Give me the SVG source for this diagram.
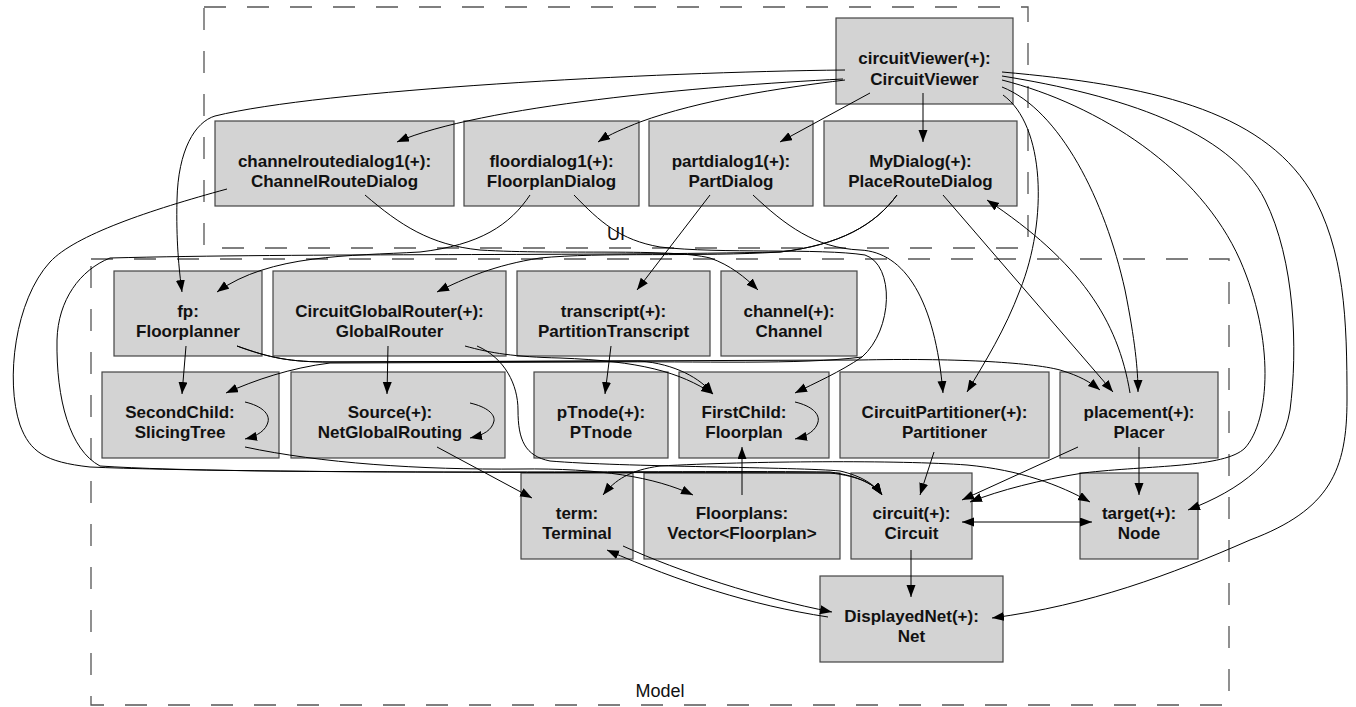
<svg xmlns="http://www.w3.org/2000/svg" width="1356" height="707" viewBox="0 0 1356 707">
<style>
.cl{fill:none;stroke:#555;stroke-width:1.3;stroke-dasharray:22,21}
.cll{font-family:"Liberation Sans",Arial,sans-serif;font-size:18px;fill:#111;text-anchor:middle}
.nd rect{fill:#d3d3d3;stroke:#444;stroke-width:1.2}
.nd text{font-family:"Liberation Sans",Arial,sans-serif;font-size:17px;font-weight:bold;fill:#111;text-anchor:middle}
.e path{fill:none;stroke:#000;stroke-width:1}
</style>
<defs>
<marker id="a" markerUnits="userSpaceOnUse" markerWidth="13" markerHeight="10" refX="12" refY="4.5" orient="auto-start-reverse">
<path d="M0,0 L12,4.5 L0,9 z" fill="#000"/>
</marker>
</defs>
<rect width="1356" height="707" fill="#fff"/>
<g id="cluster-ui"><rect class="cl" x="204" y="7" width="824" height="241"/><text class="cll" x="616" y="240">UI</text></g>
<g id="cluster-model"><rect class="cl" x="91" y="259" width="1138" height="446"/><text class="cll" x="660" y="697">Model</text></g>

<g id="n-circuitViewer" class="nd"><rect x="836" y="18" width="177" height="86"/><text x="924.5" y="64">circuitViewer(+):</text><text x="924.5" y="85">CircuitViewer</text></g>
<g id="n-channelroutedialog1" class="nd"><rect x="215" y="121" width="239" height="85"/><text x="334.5" y="167">channelroutedialog1(+):</text><text x="334.5" y="187">ChannelRouteDialog</text></g>
<g id="n-floordialog1" class="nd"><rect x="464" y="121" width="175" height="85"/><text x="551.5" y="167">floordialog1(+):</text><text x="551.5" y="187">FloorplanDialog</text></g>
<g id="n-partdialog1" class="nd"><rect x="649" y="121" width="164" height="85"/><text x="731" y="167">partdialog1(+):</text><text x="731" y="187">PartDialog</text></g>
<g id="n-MyDialog" class="nd"><rect x="824" y="121" width="193" height="85"/><text x="920.5" y="167">MyDialog(+):</text><text x="920.5" y="187">PlaceRouteDialog</text></g>
<g id="n-fp" class="nd"><rect x="114" y="271" width="148" height="85"/><text x="188" y="317">fp:</text><text x="188" y="337">Floorplanner</text></g>
<g id="n-CircuitGlobalRouter" class="nd"><rect x="273" y="271" width="233" height="85"/><text x="389.5" y="317">CircuitGlobalRouter(+):</text><text x="389.5" y="337">GlobalRouter</text></g>
<g id="n-transcript" class="nd"><rect x="517" y="271" width="193" height="85"/><text x="613.5" y="317">transcript(+):</text><text x="613.5" y="337">PartitionTranscript</text></g>
<g id="n-channel" class="nd"><rect x="721" y="271" width="136" height="85"/><text x="789" y="317">channel(+):</text><text x="789" y="337">Channel</text></g>
<g id="n-SecondChild" class="nd"><rect x="102" y="372" width="177" height="86"/><text x="180" y="418">SecondChild:</text><text x="180" y="438">SlicingTree</text></g>
<g id="n-Source" class="nd"><rect x="291" y="372" width="214" height="86"/><text x="390" y="418">Source(+):</text><text x="390" y="438">NetGlobalRouting</text></g>
<g id="n-pTnode" class="nd"><rect x="534" y="372" width="134" height="86"/><text x="601" y="418">pTnode(+):</text><text x="601" y="438">PTnode</text></g>
<g id="n-FirstChild" class="nd"><rect x="679" y="372" width="150" height="86"/><text x="744" y="418">FirstChild:</text><text x="744" y="438">Floorplan</text></g>
<g id="n-CircuitPartitioner" class="nd"><rect x="840" y="372" width="209" height="86"/><text x="944.5" y="418">CircuitPartitioner(+):</text><text x="944.5" y="438">Partitioner</text></g>
<g id="n-placement" class="nd"><rect x="1060" y="372" width="158" height="86"/><text x="1139" y="418">placement(+):</text><text x="1139" y="438">Placer</text></g>
<g id="n-term" class="nd"><rect x="521" y="473" width="112" height="86"/><text x="577" y="519">term:</text><text x="577" y="539">Terminal</text></g>
<g id="n-Floorplans" class="nd"><rect x="644" y="473" width="196" height="86"/><text x="742" y="519">Floorplans:</text><text x="742" y="539">Vector&lt;Floorplan&gt;</text></g>
<g id="n-circuit" class="nd"><rect x="851" y="473" width="121" height="86"/><text x="911.5" y="519">circuit(+):</text><text x="911.5" y="539">Circuit</text></g>
<g id="n-target" class="nd"><rect x="1080" y="473" width="118" height="86"/><text x="1139" y="519">target(+):</text><text x="1139" y="539">Node</text></g>
<g id="n-DisplayedNet" class="nd"><rect x="820" y="576" width="183" height="86"/><text x="911.5" y="622">DisplayedNet(+):</text><text x="911.5" y="642">Net</text></g>

<g id="connectors" class="e">
<path marker-end="url(#a)" d="M843,79 C700,86 480,106 397,142"/>
<path marker-end="url(#a)" d="M845,80 C780,88 700,100 640,122 C625,128 610,134 598,142"/>
<path marker-end="url(#a)" d="M870,93 L780,142"/>
<path marker-end="url(#a)" d="M923,93 L923,142"/>
<path marker-end="url(#a)" d="M845,70 C650,72 320,90 215,116 C195,122 178,150 177,200 C176,240 179,270 182,292"/>
<path marker-end="url(#a)" d="M1130,393 C1118,320 1080,262 987,200"/>
<path marker-end="url(#a)" d="M943,195 L1113,392"/>
<path marker-end="url(#a)" d="M1002,87 C1060,110 1105,200 1125,290 C1135,340 1138,370 1138,392"/>
<path marker-end="url(#a)" d="M1003,95 C1045,125 1048,220 1020,290 C1005,330 985,362 967,392"/>
<path marker-end="url(#a)" d="M1002,80 C1100,105 1200,170 1240,260 C1275,340 1270,420 1245,448 C1225,468 1150,465 1083,473 C1040,480 1000,490 970,502"/>
<path marker-end="url(#a)" d="M1002,76 C1120,95 1230,130 1265,200 C1295,260 1298,350 1290,410 C1282,460 1240,490 1188,510"/>
<path marker-end="url(#a)" d="M1002,72 C1150,85 1260,110 1310,190 C1345,250 1347,320 1347,400 C1347,470 1330,510 1250,540 C1170,575 1090,605 992,618"/>
<path marker-end="url(#a)" d="M710,195 L637,290"/>
<path marker-end="url(#a)" d="M753,195 C785,225 815,248 860,250 C905,252 935,300 943,393"/>
<path marker-end="url(#a)" d="M897,195 C875,225 840,245 780,252 C700,257 600,252 540,258 C495,265 465,278 437,292"/>
<path marker-end="url(#a)" d="M530,195 C510,225 480,245 420,252 C350,256 270,254 217,292"/>
<path marker-end="url(#a)" d="M365,195 C400,225 430,245 480,250 C560,255 670,248 710,258 C730,265 745,277 758,290"/>
<path marker-end="url(#a)" d="M574,195 C600,222 620,240 660,247 C720,254 820,248 865,255 C895,265 893,330 862,357 C840,372 815,383 795,393"/>
<path marker-end="url(#a)" d="M862,357 C800,365 700,361 600,362 L330,363 C290,368 255,380 226,393"/>
<path marker-end="url(#a)" d="M227,189 C150,210 75,235 50,262 C15,300 5,380 20,425 C30,452 45,462 90,467 C250,474 700,472 830,473 C860,476 875,485 882,495"/>
<path marker-end="url(#a)" d="M897,195 C875,225 840,245 780,252 C600,256 300,253 110,258 C80,270 58,300 57,340 C56,400 70,450 100,466 C250,476 700,470 830,472 C860,476 875,485 882,495"/>
<path marker-end="url(#a)" d="M186,346 L182,394"/>
<path marker-end="url(#a)" d="M388,346 L387,394"/>
<path marker-end="url(#a)" d="M611,346 L605,394"/>
<path marker-end="url(#a)" d="M237,346 C270,358 290,362 330,362 L640,361 C675,364 700,378 713,394"/>
<path marker-end="url(#a)" d="M237,346 C270,358 290,362 330,362 L860,360 C950,358 1030,362 1060,370 C1080,376 1090,382 1100,390"/>
<path marker-end="url(#a)" d="M465,346 C490,353 515,357 560,358 C640,361 680,372 713,394"/>
<path marker-end="url(#a)" d="M477,346 C505,358 518,385 518,410 C518,440 525,456 550,461 C620,467 800,467 840,471 C862,476 875,485 882,495"/>
<path marker-start="url(#a)" marker-end="url(#a)" d="M603,495 C615,480 630,470 660,466 C750,461 900,460 967,465 C1020,470 1060,485 1090,502"/>
<path marker-end="url(#a)" d="M245,447 C320,463 420,470 520,469 C600,468 655,477 693,495"/>
<path marker-end="url(#a)" d="M437,447 L532,498"/>
<path marker-end="url(#a)" d="M742,495 L742,447"/>
<path marker-end="url(#a)" d="M934,452 L920,495"/>
<path marker-end="url(#a)" d="M1078,447 L962,500"/>
<path marker-end="url(#a)" d="M1139,447 L1139,495"/>
<path marker-start="url(#a)" marker-end="url(#a)" d="M962,522 L1092,522"/>
<path marker-end="url(#a)" d="M911,550 L911,597"/>
<path marker-end="url(#a)" d="M623,546 C680,572 760,598 832,612"/>
<path marker-end="url(#a)" d="M828,617 C750,605 680,582 607,550"/>
<path marker-end="url(#a)" d="M245,402 C262,406 270,414 268,422 C266,430 258,436 245,439"/>
<path marker-end="url(#a)" d="M470,403 C487,407 495,414 494,421 C492,430 484,435 470,438"/>
<path marker-end="url(#a)" d="M795,402 C812,406 820,414 818,422 C816,430 808,436 795,439"/>
</g>
</svg>
